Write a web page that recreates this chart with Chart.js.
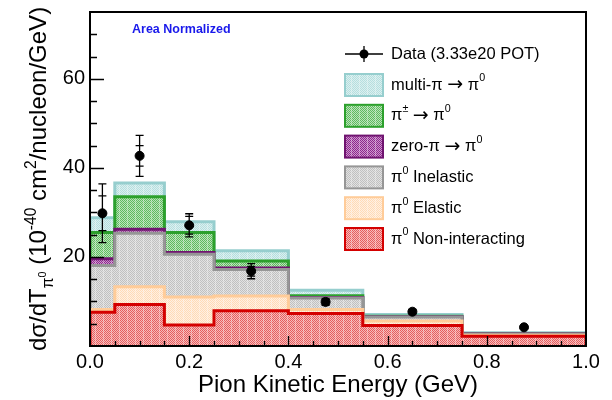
<!DOCTYPE html>
<html>
<head>
<meta charset="utf-8">
<script src="https://cdn.jsdelivr.net/npm/chart.js@4.4.0/dist/chart.umd.min.js"></script>
<style>
  body { margin: 0; background: #fff; }
  canvas { display: block; }
</style>
</head>
<body>
<canvas id="pion-chart" width="612" height="400"></canvas>
<script>
// bin edges in GeV
const binEdges = [0, 0.05, 0.15, 0.25, 0.4, 0.55, 0.75, 1.0];

// MC components (per bin contribution), bottom of stack first
const nonInteracting = [7.6, 9.3, 4.7, 7.9, 7.3, 4.6, 2.2];
const elastic = [0.6, 4.0, 6.3, 3.3, 0.9, 1.0, 0.2];
const inelastic = [9.9, 12.0, 9.6, 6.0, 2.6, 0.9, 0.3];
const zeroPi = [1.5, 0.9, 0.4, 0.3, 0.1, 0.05, 0.05];
const chargedPi = [5.9, 7.3, 4.5, 1.6, 0.4, 0.15, 0.05];
const multiPi = [3.3, 3.1, 2.4, 2.3, 1.2, 0.4, 0.2];

// data points
const dataX = [0.025, 0.1, 0.2, 0.325, 0.475, 0.65, 0.875];
const dataY = [29.8, 42.7, 27.1, 16.8, 9.9, 7.7, 4.2];
const statErr = [3.9, 2.3, 2.0, 1.1, 0.5, 0.4, 0.2];
const totalErr = [6.6, 4.6, 2.6, 1.7, 0.8, 0.5, 0.3];

const FONT = '"Liberation Sans", Arial, Helvetica, sans-serif';

function checker(base, light) {
  var c = document.createElement('canvas');
  c.width = 8; c.height = 8;
  var g = c.getContext('2d');
  g.fillStyle = base;
  g.fillRect(0, 0, 8, 8);
  g.fillStyle = light;
  for (var i = 0; i < 8; i++) {
    for (var j = 0; j < 8; j++) {
      if ((i + j) % 2) g.fillRect(i, j, 1, 1);
    }
  }
  g.fillStyle = 'rgba(255,255,255,0.3)';
  g.fillRect(7, 0, 1, 8);
  return g.createPattern(c, 'repeat');
}

// stack layers, bottom first; label parts: [text, kind]
const layers = [
  { values: nonInteracting, border: 'rgb(212,0,0)', fill: checker('rgb(228,95,95)', 'rgb(248,185,185)'),
    label: [['π', 'n'], ['0', 'sup'], [' Non-interacting', 'n']] },
  { values: elastic, border: 'rgb(255,204,153)', fill: checker('rgb(255,218,182)', 'rgb(255,240,226)'),
    label: [['π', 'n'], ['0', 'sup'], [' Elastic', 'n']] },
  { values: inelastic, border: 'rgb(150,150,150)', fill: checker('rgb(192,192,192)', 'rgb(226,226,226)'),
    label: [['π', 'n'], ['0', 'sup'], [' Inelastic', 'n']] },
  { values: zeroPi, border: 'rgb(112,20,112)', fill: checker('rgb(140,40,140)', 'rgb(205,150,205)'),
    label: [['zero-π ', 'n'], ['→', 'arrow'], [' π', 'n'], ['0', 'sup']] },
  { values: chargedPi, border: 'rgb(44,160,44)', fill: checker('rgb(95,185,95)', 'rgb(185,228,185)'),
    label: [['π', 'n'], ['±', 'sup'], [' ', 'n'], ['→', 'arrow'], [' π', 'n'], ['0', 'sup']] },
  { values: multiPi, border: 'rgb(150,206,206)', fill: checker('rgb(182,222,222)', 'rgb(218,240,240)'),
    label: [['multi-π ', 'n'], ['→', 'arrow'], [' π', 'n'], ['0', 'sup']] }
];

// cumulative sums give each histogram's height (overlaid from zero)
let running = binEdges.slice(1).map(() => 0);
const histSets = [];
layers.forEach(function(l) {
  running = running.map((v, i) => v + l.values[i]);
  const pts = [{ x: binEdges[0], y: 0 }];
  running.forEach((v, i) => pts.push({ x: binEdges[i], y: v }));
  pts.push({ x: binEdges[binEdges.length - 1], y: running[running.length - 1] });
  pts.push({ x: binEdges[binEdges.length - 1], y: 0 });
  histSets.push({
    data: pts,
    stepped: 'before',
    fill: 'origin',
    backgroundColor: l.fill,
    borderColor: l.border,
    borderWidth: 3,
    pointRadius: 0
  });
});
// higher order is drawn first: tallest (top of stack) goes behind
histSets.forEach((d, i) => { d.order = 1 + i; });

const datasets = histSets.concat([{
  data: dataX.map((x, i) => ({ x: x, y: dataY[i] })),
  showLine: false,
  pointRadius: 4.5,
  pointBackgroundColor: '#000',
  pointBorderColor: '#000',
  order: 0
}]);

function partFont(kind, size) {
  if (kind === 'sup' || kind === 'sub') return (size * 0.65) + 'px ' + FONT;
  if (kind === 'subsup') return (size * 0.45) + 'px ' + FONT;
  if (kind === 'arrow') return (size * 1.15) + 'px "DejaVu Sans", sans-serif';
  return size + 'px ' + FONT;
}

function drawRich(ctx, parts, x, y, size) {
  let cx = x;
  parts.forEach(function(p) {
    const t = p[0], kind = p[1];
    let dy = 0;
    if (kind === 'sup') dy = -size * 0.4;
    if (kind === 'sub') dy = size * 0.3;
    if (kind === 'subsup') dy = size * 0.02;
    ctx.font = partFont(kind, size);
    ctx.fillText(t, cx, y + dy);
    cx += ctx.measureText(t).width;
  });
  return cx - x;
}

function richWidth(ctx, parts, size) {
  let w = 0;
  parts.forEach(function(p) {
    ctx.font = partFont(p[1], size);
    w += ctx.measureText(p[0]).width;
  });
  return w;
}

const decorations = {
  id: 'decorations',
  afterDatasetsDraw(chart) {
    const ctx = chart.ctx;
    const xs = chart.scales.x, ys = chart.scales.y;
    const area = chart.chartArea;

    // error bars: total and stat caps
    ctx.save();
    ctx.strokeStyle = '#000';
    ctx.lineWidth = 1.3;
    dataX.forEach(function(x, i) {
      const px = xs.getPixelForValue(x);
      ctx.beginPath();
      ctx.moveTo(px, ys.getPixelForValue(dataY[i] + totalErr[i]));
      ctx.lineTo(px, ys.getPixelForValue(dataY[i] - totalErr[i]));
      [dataY[i] + totalErr[i], dataY[i] - totalErr[i], dataY[i] + statErr[i], dataY[i] - statErr[i]].forEach(function(v) {
        const py = ys.getPixelForValue(v);
        ctx.moveTo(px - 4, py); ctx.lineTo(px + 4, py);
      });
      ctx.stroke();
    });
    ctx.restore();

    // frame and inward ticks
    ctx.save();
    ctx.strokeStyle = '#000';
    ctx.lineWidth = 2;
    ctx.strokeRect(area.left, area.top, area.right - area.left, area.bottom - area.top);
    ctx.lineWidth = 1.3;
    ctx.beginPath();
    for (let v = 5; v < 75; v += 5) {
      const py = Math.round(ys.getPixelForValue(v)) + 0.5;
      const len = v % 20 === 0 ? 14 : 7;
      ctx.moveTo(area.left, py); ctx.lineTo(area.left + len, py);
    }
    for (let k = 1; k < 20; k++) {
      const px = Math.round(xs.getPixelForValue(k * 0.05)) + 0.5;
      const len = k % 4 === 0 ? 10 : 5;
      ctx.moveTo(px, area.bottom); ctx.lineTo(px, area.bottom - len);
    }
    ctx.stroke();
    ctx.restore();

    // legend
    ctx.save();
    ctx.textBaseline = 'middle';
    ctx.fillStyle = '#000';
    const bx = 345, bw = 38, bh = 22, tx = 391;
    ctx.strokeStyle = '#000';
    ctx.lineWidth = 1.3;
    ctx.beginPath();
    ctx.moveTo(bx, 54); ctx.lineTo(bx + bw, 54);
    ctx.moveTo(bx + bw / 2, 46); ctx.lineTo(bx + bw / 2, 62);
    ctx.stroke();
    ctx.beginPath();
    ctx.arc(bx + bw / 2, 54, 4.5, 0, Math.PI * 2);
    ctx.fill();
    drawRich(ctx, [['Data (3.33e20 POT)', 'n']], tx, 54, 16.5);
    layers.slice().reverse().forEach(function(l, i) {
      const yc = 85 + i * 30.8;
      ctx.fillStyle = l.fill;
      ctx.fillRect(bx, yc - bh / 2, bw, bh);
      ctx.strokeStyle = l.border;
      ctx.lineWidth = 2;
      ctx.strokeRect(bx, yc - bh / 2, bw, bh);
      ctx.fillStyle = '#000';
      drawRich(ctx, l.label, tx, yc, 16.5);
    });

    // annotation
    ctx.fillStyle = 'rgb(25,25,235)';
    ctx.font = 'bold 12.5px ' + FONT;
    ctx.fillText('Area Normalized', 132, 30);
    ctx.restore();

    // axis titles
    ctx.save();
    ctx.fillStyle = '#000';
    ctx.textBaseline = 'alphabetic';
    ctx.font = '24px ' + FONT;
    ctx.textAlign = 'center';
    ctx.fillText('Pion Kinetic Energy (GeV)', (area.left + area.right) / 2, 392);
    ctx.textAlign = 'left';
    const yTitle = [['dσ/dT', 'n'], ['π', 'sub'], ['0', 'subsup'], [' (10', 'n'], ['-40', 'sup'],
      [' cm', 'n'], ['2', 'sup'], ['/nucleon/GeV)', 'n']];
    const w = richWidth(ctx, yTitle, 24);
    ctx.translate(46, (area.top + area.bottom) / 2);
    ctx.rotate(-Math.PI / 2);
    drawRich(ctx, yTitle, -w / 2, 0, 24);
    ctx.restore();
  }
};

new Chart(document.getElementById('pion-chart').getContext('2d'), {
  type: 'line',
  data: { datasets: datasets },
  options: {
    responsive: false,
    animation: false,
    devicePixelRatio: 1,
    layout: { padding: { top: 12, right: 26, left: 0, bottom: 0 } },
    plugins: { legend: { display: false }, tooltip: { enabled: false } },
    scales: {
      x: {
        type: 'linear',
        min: 0,
        max: 1,
        grid: { display: false, drawTicks: false, tickLength: 0 },
        border: { display: false },
        ticks: {
          stepSize: 0.05,
          autoSkip: false,
          maxRotation: 0,
          padding: 4,
          color: '#000',
          font: { family: FONT, size: 20 },
          callback: v => (Math.round(v * 20) % 4 === 0 ? v.toFixed(1) : '')
        },
        afterFit: s => { s.height = 54; s.paddingLeft = 0; s.paddingRight = 0; }
      },
      y: {
        min: 0,
        max: 75,
        grid: { display: false, drawTicks: false, tickLength: 0 },
        border: { display: false },
        ticks: {
          stepSize: 5,
          autoSkip: false,
          padding: 5,
          color: '#000',
          font: { family: FONT, size: 20 },
          callback: v => (v % 20 === 0 && v > 0 ? String(v) : '')
        },
        afterFit: s => { s.width = 90; s.paddingTop = 0; s.paddingBottom = 0; }
      }
    }
  },
  plugins: [decorations]
});
</script>
</body>
</html>
